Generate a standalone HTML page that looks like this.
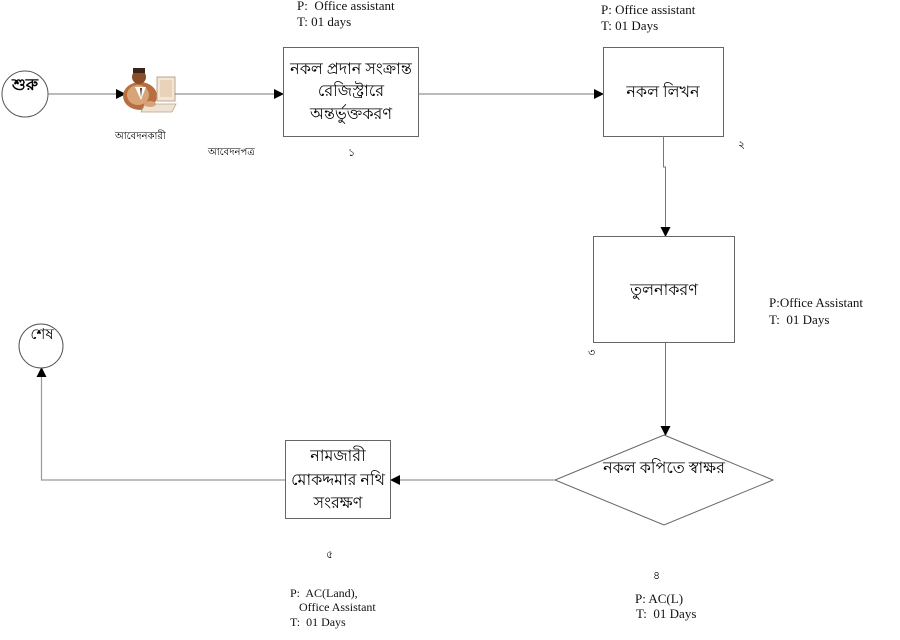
<!DOCTYPE html>
<html>
<head>
<meta charset="utf-8">
<style>
  html,body{margin:0;padding:0;background:#fff;}
  body{width:900px;height:640px;overflow:hidden;}
  svg{display:block;}
  text{white-space:pre;}
  .en{font-family:"Liberation Serif",serif;font-size:13px;fill:#111;}
  .bn{font-family:"Liberation Serif","Noto Sans CJK SC",serif;font-size:16px;fill:#000;}
  .bs{font-family:"Liberation Serif","Noto Sans CJK SC",serif;font-size:10px;fill:#000;}
</style>
</head>
<body>
<svg width="900" height="640" viewBox="0 0 900 640" xmlns="http://www.w3.org/2000/svg" xml:space="preserve">
  <defs>
    <marker id="ah" markerWidth="10" markerHeight="10" refX="9" refY="5" orient="auto" markerUnits="userSpaceOnUse">
      <path d="M0,0 L10,5 L0,10 Z" fill="#000"/>
    </marker>
  </defs>

  <!-- start circle -->
  <circle cx="25" cy="94" r="23" fill="#fff" stroke="#555" stroke-width="1"/>
  <text x="25" y="90" text-anchor="middle" class="bn" style="font-weight:bold;font-size:16px">শুরু</text>

  <!-- line start -> person -->
  <line x1="48" y1="94" x2="125" y2="94" stroke="#777" stroke-width="1" marker-end="url(#ah)"/>

  <!-- person icon -->
  <g>
    <ellipse cx="140" cy="96" rx="17" ry="14" fill="#b86e3e"/>
    <ellipse cx="138" cy="95" rx="11" ry="10" fill="#d9a37a"/>
    <circle cx="139" cy="77" r="7" fill="#8a4f2a"/>
    <rect x="133" y="68" width="12" height="5" fill="#3a2416"/>
    <path d="M135,87 L141,100 L146,87 Z" fill="#fff"/>
    <path d="M140,88 L141,98 L142,88 Z" fill="#5a2f1a"/>
    <rect x="157" y="77" width="18" height="24" fill="#f3e6d6" stroke="#b9a48c" stroke-width="1"/>
    <rect x="160" y="80" width="12" height="17" fill="#e8d2ba"/>
    <path d="M145,104 L176,104 L172,112 L141,112 Z" fill="#efe2d0" stroke="#b9a48c" stroke-width="0.8"/>
    <ellipse cx="150" cy="104" rx="6" ry="3" fill="#d9a37a"/>
  </g>
  <text x="115" y="139" class="bs">আবেদনকারী</text>

  <!-- line person -> box1 -->
  <line x1="175" y1="94" x2="283" y2="94" stroke="#777" stroke-width="1" marker-end="url(#ah)"/>
  <text x="208" y="155" class="bs">আবেদনপত্র</text>

  <!-- box 1 -->
  <text x="297" y="10" class="en">P:  Office assistant</text>
  <text x="297" y="26" class="en">T: 01 days</text>
  <rect x="283.5" y="47.5" width="135" height="89" fill="#fff" stroke="#666" stroke-width="1"/>
  <text x="351" y="74" text-anchor="middle" class="bn">নকল প্রদান সংক্রান্ত</text>
  <text x="351" y="96" text-anchor="middle" class="bn">রেজিস্ট্রারে</text>
  <text x="351" y="119" text-anchor="middle" class="bn">অন্তর্ভুক্তকরণ</text>
  <text x="348" y="156" class="bs" style="font-size:11px">১</text>

  <!-- line box1 -> box2 -->
  <line x1="418" y1="94" x2="603" y2="94" stroke="#777" stroke-width="1" marker-end="url(#ah)"/>

  <!-- box 2 -->
  <text x="601" y="14" class="en">P: Office assistant</text>
  <text x="601" y="30" class="en">T: 01 Days</text>
  <rect x="603.5" y="47.5" width="120" height="89" fill="#fff" stroke="#666" stroke-width="1"/>
  <text x="663" y="97" text-anchor="middle" class="bn">নকল লিখন</text>
  <text x="738" y="148" class="bs" style="font-size:11px">২</text>

  <!-- line box2 -> box3 -->
  <polyline points="663.5,136 663.5,167 665.5,167 665.5,236" fill="none" stroke="#777" stroke-width="1" marker-end="url(#ah)"/>

  <!-- box 3 -->
  <rect x="593.5" y="236.5" width="141" height="106" fill="#fff" stroke="#666" stroke-width="1"/>
  <text x="664" y="295" text-anchor="middle" class="bn">তুলনাকরণ</text>
  <text x="769" y="307" class="en">P:Office Assistant</text>
  <text x="769" y="324" class="en">T:  01 Days</text>
  <text x="588" y="356" class="bs" style="font-size:11px">৩</text>

  <!-- line box3 -> diamond -->
  <line x1="665.5" y1="342" x2="665.5" y2="435" stroke="#777" stroke-width="1" marker-end="url(#ah)"/>

  <!-- diamond -->
  <polygon points="664,435 773,480 664,525 555,480" fill="#fff" stroke="#666" stroke-width="1"/>
  <text x="664" y="473" text-anchor="middle" class="bn">নকল কপিতে স্বাক্ষর</text>
  <text x="653" y="579" class="bs" style="font-size:11px">৪</text>
  <text x="635" y="603" class="en">P: AC(L)</text>
  <text x="636" y="618" class="en">T:  01 Days</text>

  <!-- line diamond -> box5 -->
  <line x1="555" y1="480" x2="391" y2="480" stroke="#999" stroke-width="1.2" marker-end="url(#ah)"/>

  <!-- box 5 -->
  <rect x="285.5" y="440.5" width="105" height="78" fill="#fff" stroke="#666" stroke-width="1"/>
  <text x="338" y="461" text-anchor="middle" class="bn">নামজারী</text>
  <text x="338" y="485" text-anchor="middle" class="bn">মোকদ্দমার নথি</text>
  <text x="338" y="508" text-anchor="middle" class="bn">সংরক্ষণ</text>
  <text x="326" y="558" class="bs" style="font-size:11px">৫</text>
  <text x="290" y="597" class="en" style="font-size:12px">P:  AC(Land),</text>
  <text x="299" y="611" class="en" style="font-size:12px">Office Assistant</text>
  <text x="290" y="626" class="en" style="font-size:12px">T:  01 Days</text>

  <!-- line box5 -> end -->
  <polyline points="285,480 41.5,480 41.5,368" fill="none" stroke="#999" stroke-width="1.2" marker-end="url(#ah)"/>

  <!-- end circle -->
  <circle cx="41" cy="346" r="22" fill="#fff" stroke="#555" stroke-width="1"/>
  <text x="42" y="339" text-anchor="middle" class="bn" style="font-size:15px">শেষ</text>
</svg>
</body>
</html>
